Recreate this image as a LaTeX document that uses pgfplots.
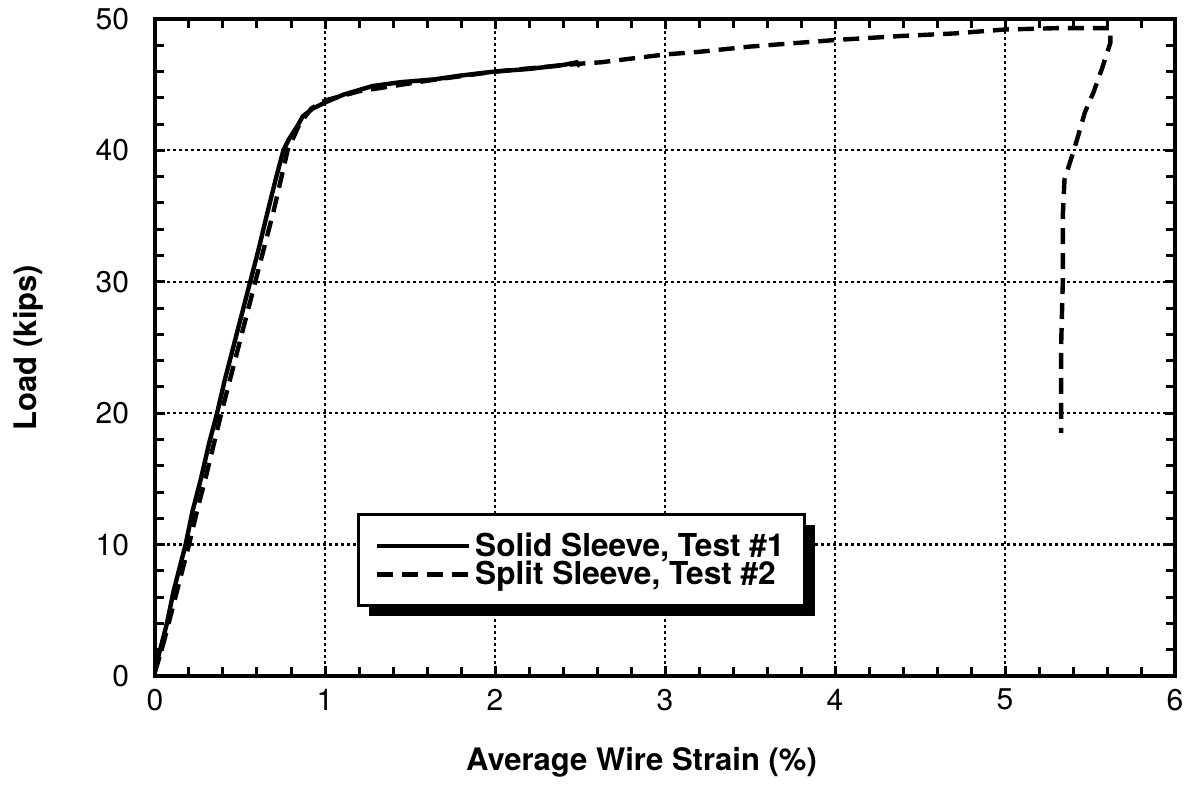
\documentclass[border=0pt]{standalone}
\usepackage{fontspec}
\setmainfont{TeX Gyre Heros}
\usepackage{pgfplots}
\pgfplotsset{compat=1.18}
\usetikzlibrary{shadows}
\makeatletter
\tikzset{no preaction/.code={\let\tikz@preactions=\pgfutil@empty}}
\makeatother

\pgfplotsset{
  every tick/.style={line width=1.5pt, black},
  every major tick/.style={line width=1.5pt, black},
  every minor tick/.style={line width=1.5pt, black},
  frame/.style={
    scale only axis,
    width=510pt, height=328.5pt,
    xmin=0, xmax=6, ymin=0, ymax=50,
    xtick={0,1,2,3,4,5,6}, ytick={0,10,20,30,40,50},
  }
}

\begin{document}
\begin{tikzpicture}
% dotted grid only
\begin{axis}[frame,
    xticklabels={}, yticklabels={},
    major tick length=0pt,
    axis line style={draw=none},
    xmajorgrids, ymajorgrids,
    major grid style={line width=1.1pt, dash pattern=on 1.4pt off 1.6pt, black},
]
\end{axis}
% data, frame and ticks
\begin{axis}[frame,
    minor x tick num=4, minor y tick num=4,
    tick align=inside,
    major tick length=5pt, minor tick length=4.5pt,
    tick style={line width=1.5pt, black},
    axis line style={line width=1.6pt},
    /pgf/number format/assume math mode=true,
    ticklabel style={font=\fontsize{15}{18}\selectfont},
    xticklabel style={yshift=-3pt},
    yticklabel style={xshift=-9.5pt},
    xlabel={Average Wire Strain (\%)},
    ylabel={Load (kips)},
    label style={font=\bfseries\fontsize{15.5}{18}\selectfont},
    xlabel style={at={(axis description cs:0.477,-0.132)}, anchor=center},
    ylabel style={at={(axis description cs:-0.1245,0.5)}, anchor=center},
    legend style={at={(axis cs:1.19,12.4)}, anchor=north west,
        draw=black, line width=1.5pt, fill=white,
        inner xsep=8pt, inner ysep=8.5pt, row sep=0pt,
        nodes={inner ysep=0.5pt, inner xsep=2pt},
        font=\bfseries\fontsize{15.8}{17}\selectfont,
        drop shadow={shadow xshift=5pt, shadow yshift=-5pt, fill=black, opacity=1}},
    legend cell align=left,
    legend image code/.code={\draw[#1, no preaction] (0pt,0pt) -- (46pt,0pt);},
]
% Solid sleeve, test 1
\addplot[black, line width=2.2pt] coordinates {
    (0.00,0.5) (0.03,2.0) (0.07,4.0) (0.11,6.5) (0.15,8.5) (0.18,10.0)
    (0.22,12.5) (0.27,15.0) (0.32,17.8) (0.365,20.0) (0.41,22.5)
    (0.46,25.0) (0.51,27.5) (0.56,30.0) (0.61,32.5) (0.66,35.2)
    (0.71,37.8) (0.755,40.0) (0.79,40.9) (0.835,41.8) (0.87,42.6)
    (0.93,43.2) (1.01,43.7) (1.11,44.25) (1.28,44.9) (1.45,45.2)
    (1.64,45.4) (1.80,45.7) (2.00,46.0) (2.20,46.2) (2.40,46.5)
    (2.48,46.7) (2.50,46.4)
};
\addlegendentry{Solid Sleeve, Test \#1\hspace{22pt}}
% Split sleeve, test 2
\addplot[black, line width=2.2pt, dash pattern=on 8pt off 4.5pt] coordinates {
    (0.00,0.3) (0.05,2.5) (0.10,5.0) (0.15,7.5) (0.20,10.0) (0.25,12.7)
    (0.30,15.2) (0.39,20.0) (0.45,23.0) (0.50,25.5) (0.59,30.0)
    (0.65,33.0) (0.70,35.5) (0.78,40.0) (0.85,42.0) (0.92,43.2)
    (1.00,43.8) (1.20,44.5) (1.60,45.3) (2.00,46.0) (2.50,46.6)
    (2.62,46.7) (3.00,47.3) (3.20,47.5) (3.50,47.9) (4.00,48.4)
    (4.38,48.7) (4.70,48.9) (5.00,49.2) (5.30,49.3) (5.62,49.3)
    (5.62,48.2) (5.57,46.2) (5.52,44.4) (5.47,42.9) (5.43,41.1)
    (5.40,39.8) (5.35,37.8) (5.34,35.0) (5.34,30.0) (5.33,25.0)
    (5.33,20.0) (5.33,18.5)
};
\addlegendentry{Split Sleeve, Test \#2\hspace{22pt}}
\end{axis}
\pgfresetboundingbox
\path ([shift={(-77.5pt,-58pt)}]current axis.south west)
    rectangle ([shift={(9pt,9.5pt)}]current axis.north east);
\end{tikzpicture}
\end{document}
